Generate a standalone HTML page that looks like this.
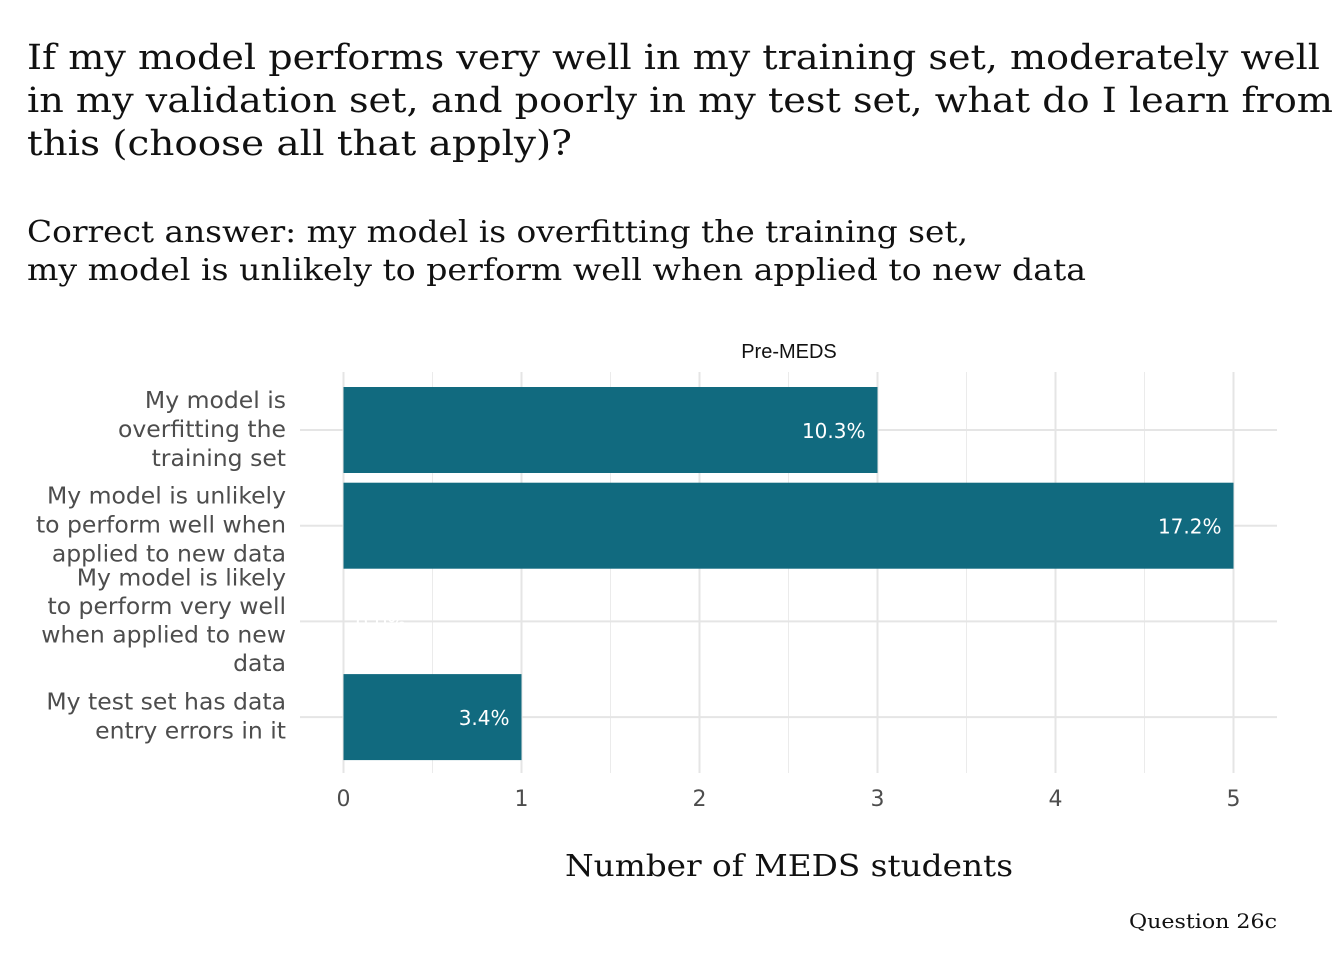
<!DOCTYPE html>
<html><head><meta charset="utf-8"><style>
body{margin:0;background:#fff;width:1344px;height:960px;overflow:hidden}
svg text{font-family:"Liberation Sans",sans-serif}
svg text.serif{font-family:"DejaVu Serif","Liberation Serif",serif}
svg text.dj{font-family:"DejaVu Sans","Liberation Sans",sans-serif}
</style></head><body>
<svg id="chart" width="1344" height="960">
<g fill="#111" font-size="35">
<text class="serif" x="27" y="69" textLength="1293" lengthAdjust="spacingAndGlyphs">If my model performs very well in my training set, moderately well</text>
<text class="serif" x="27" y="112" textLength="1306" lengthAdjust="spacingAndGlyphs">in my validation set, and poorly in my test set, what do I learn from</text>
<text class="serif" x="27" y="155" textLength="545" lengthAdjust="spacingAndGlyphs">this (choose all that apply)?</text>
</g>
<g fill="#111" font-size="30">
<text class="serif" x="27" y="242" textLength="941" lengthAdjust="spacingAndGlyphs">Correct answer: my model is overfitting the training set,</text>
<text class="serif" x="27" y="280" textLength="1059" lengthAdjust="spacingAndGlyphs">my model is unlikely to perform well when applied to new data</text>
</g>
<text x="789" y="358" text-anchor="middle" font-size="20" fill="#111">Pre-MEDS</text>
<g id="grid"></g><g id="bars"></g><g id="ylabels"></g><g id="xticks"></g>
<text class="serif" x="789" y="876" text-anchor="middle" font-size="30" fill="#111" textLength="448" lengthAdjust="spacingAndGlyphs">Number of MEDS students</text>
<text class="serif" x="1277" y="928" text-anchor="end" font-size="20" fill="#111" textLength="148" lengthAdjust="spacingAndGlyphs">Question 26c</text>
</svg>
<script>
const categories=[["My model is","overfitting the","training set"],["My model is unlikely","to perform well when","applied to new data"],["My model is likely","to perform very well","when applied to new","data"],["My test set has data","entry errors in it"]];
const counts=[3,5,0,1];
const pctLabels=["10.3%","17.2%","0.0%","3.4%"];
const xTicks=[0,1,2,3,4,5];
const NS="http://www.w3.org/2000/svg";
const x=v=>343.5+v*178;
const y=i=>430+i*95.7;
const bh=86;
function mk(t,a,p){const e=document.createElementNS(NS,t);for(const k in a)e.setAttribute(k,a[k]);p.appendChild(e);return e;}
const g=document.getElementById('grid'),b=document.getElementById('bars'),yl=document.getElementById('ylabels'),xt=document.getElementById('xticks');
for(let v=0.5;v<5.3;v+=1){const l=mk('line',{x1:x(v),x2:x(v),y1:372,y2:773,stroke:'#ebebeb','stroke-width':1},g);

}
xTicks.forEach(v=>{const l=mk('line',{x1:x(v),x2:x(v),y1:372,y2:773,stroke:'#e5e5e5','stroke-width':2},g);


const t=mk('text',{class:'dj',x:x(v),y:806,'text-anchor':'middle','font-size':22,fill:'#4d4d4d'},xt);t.textContent=v;

});
categories.forEach((c,i)=>{const l=mk('line',{x1:300,x2:1277,y1:y(i),y2:y(i),stroke:'#e5e5e5','stroke-width':2},g);


const r=mk('rect',{x:x(0),y:y(i)-bh/2,width:x(counts[i])-x(0),height:bh,fill:'#116a7f'},b);


const t=mk('text',{class:'dj',x:counts[i]>0?x(counts[i])-12:x(0)+12,y:y(i)+8,'text-anchor':counts[i]>0?'end':'start','font-size':20,fill:'#fff'},b);t.textContent=pctLabels[i];


const n=c.length,lh=c.length>3?28.5:29;
c.forEach((s,j)=>{const tt=mk('text',{class:'dj',x:286,y:y(i)+7+(j-(n-1)/2)*lh,'text-anchor':'end','font-size':23.5,fill:'#4d4d4d'},yl);tt.textContent=s;

});});
</script>
</body></html>
